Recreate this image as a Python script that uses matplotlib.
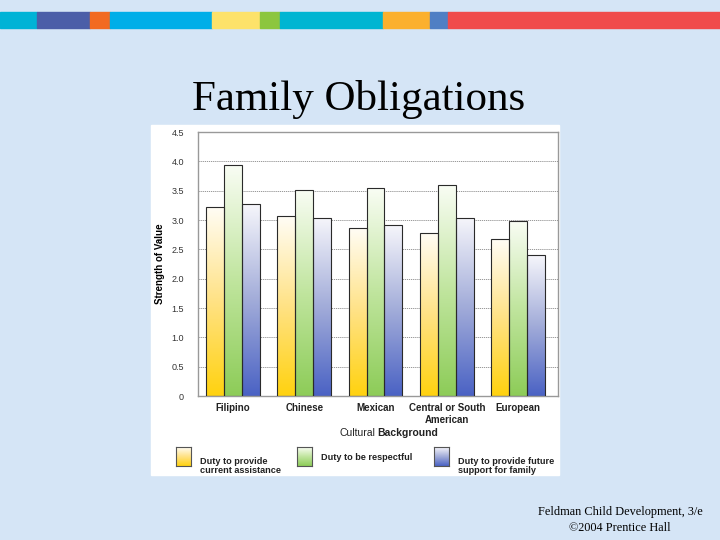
import matplotlib
matplotlib.use("Agg")
import matplotlib.pyplot as plt
import numpy as np
from matplotlib.colors import LinearSegmentedColormap
from matplotlib.patches import Rectangle

# data
groups = ["Filipino", "Chinese", "Mexican", "Central or South\nAmerican", "European"]
current_assist = [3.23, 3.06, 2.87, 2.78, 2.67]
respectful = [3.93, 3.51, 3.54, 3.59, 2.98]
future_support = [3.27, 3.04, 2.91, 3.04, 2.40]
series_names = ["Duty to provide\ncurrent assistance", "Duty to be respectful",
                "Duty to provide future\nsupport for family"]
yticks = [0, 0.5, 1.0, 1.5, 2.0, 2.5, 3.0, 3.5, 4.0, 4.5]
ytick_labels = ["0", "0.5", "1.0", "1.5", "2.0", "2.5", "3.0", "3.5", "4.0", "4.5"]

plt.rcParams['font.family'] = ['Liberation Sans', 'DejaVu Sans']

#gradients: saturated at bottom, almost white at top
cmaps = [
    LinearSegmentedColormap.from_list("yel", ["#ffd20f", "#ffe285", "#fffdf6"]),
    LinearSegmentedColormap.from_list("grn", ["#8dcc58", "#c0e59e", "#f9fdf4"]),
    LinearSegmentedColormap.from_list("blu", ["#4a62c4", "#a2acd9", "#f6f6fb"]),
]
grad = np.linspace(0, 1, 256).reshape(-1, 1)

fig = plt.figure(figsize=(7.2, 5.4), dpi=100)
fig.patch.set_facecolor("#d5e5f6")

#coloured strip across the top
strip = [(0, 37, "#00b3d6"), (37, 90, "#4b5ea8"), (90, 110, "#f26a21"),
         (110, 212, "#00aee8"), (212, 260, "#fde26a"), (260, 280, "#8cc63f"),
         (280, 383, "#00b5d2"), (383, 430, "#fbb02e"), (430, 448, "#4f7fc4"),
         (448, 720, "#f04b4b")]
for x0, x1, c in strip:
    fig.patches.append(Rectangle((x0 / 720, 1 - 28 / 540), (x1 - x0) / 720, 16 / 540,
                                 transform=fig.transFigure, color=c, zorder=-2))

#white panel behind the chart
fig.patches.append(Rectangle((151 / 720, 1 - 475 / 540), (559 - 151) / 720, (475 - 125) / 540,
                             transform=fig.transFigure, color="white", zorder=-2))

fig.text(359 / 720, 1 - 110 / 540, "Family Obligations", family="Liberation Serif",
         fontsize=31, ha="center", va="baseline", color="black")
fig.text(620 / 720, 1 - 520 / 540, "Feldman Child Development, 3/e\n\u00a92004 Prentice Hall",
         family="Liberation Serif", fontsize=8.8, ha="center", va="center", linespacing=1.35)

ax = fig.add_axes([198 / 720, 1 - 396 / 540, 360 / 720, 264 / 540])
ax.set_facecolor("white")
x = np.arange(len(groups))
w = 0.25
all_series = [current_assist, respectful, future_support]
for i, vals in enumerate(all_series):
    bars = ax.bar(x + (i - 1) * w, vals, w, color="none", edgecolor="#2a2a2a",
                  linewidth=0.8, zorder=3)
    for b in bars:
        x0, y0 = b.get_x(), b.get_y()
        im = ax.imshow(grad, extent=[x0, x0 + b.get_width(), y0, y0 + b.get_height()],
                       origin="lower", aspect="auto", cmap=cmaps[i], zorder=2,
                       interpolation="bilinear")
        im.set_clip_path(b)

ax.set_xlim(-0.49, 4.56)
ax.set_ylim(0, 4.5)
ax.set_yticks(yticks)
ax.set_yticklabels(ytick_labels)
ax.set_xticks(x)
ax.set_xticklabels(groups, fontweight="bold")
ax.tick_params(axis="y", length=0, pad=10, labelsize=6.5, labelcolor="#333333")
ax.tick_params(axis="x", length=0, pad=5, labelsize=7, labelcolor="#222222")
ax.yaxis.grid(True, linestyle=(0, (1.5, 1)), color="#888888", linewidth=0.6, zorder=1)
ax.set_axisbelow(True)
for s in ax.spines.values():
    s.set_color("#999999")
    s.set_linewidth(1.0)
ax.set_ylabel("Strength of Value", fontsize=7, fontweight="bold", labelpad=5)

#axis title: "Cultural" regular, "Background" bold
fig.text(375 / 720, 1 - 433 / 540, "Cultural", fontsize=7.5, ha="right", va="center",
         color="#222222")
fig.text(377 / 720, 1 - 433 / 540, "Background", fontsize=7.5, ha="left", va="center",
         fontweight="bold", color="#222222")

#legend boxes with the same gradients
box_x = [176, 297, 434]
text_x = [200, 321, 458]
text_y = [466, 458, 466]
for i in range(3):
    lax = fig.add_axes([box_x[i] / 720, 1 - 466 / 540, 15 / 720, 19 / 540])
    lax.imshow(grad, origin="lower", aspect="auto", cmap=cmaps[i],
               extent=[0, 1, 0, 1], interpolation="bilinear")
    lax.set_xticks([])
    lax.set_yticks([])
    for s in lax.spines.values():
        s.set_color("#555555")
        s.set_linewidth(0.8)
    fig.text(text_x[i] / 720, 1 - text_y[i] / 540, series_names[i], fontsize=6.6,
             ha="left", va="center", color="#222222", linespacing=1.05,
             fontweight="semibold")

fig.savefig("out.png", dpi=100, facecolor=fig.get_facecolor())
